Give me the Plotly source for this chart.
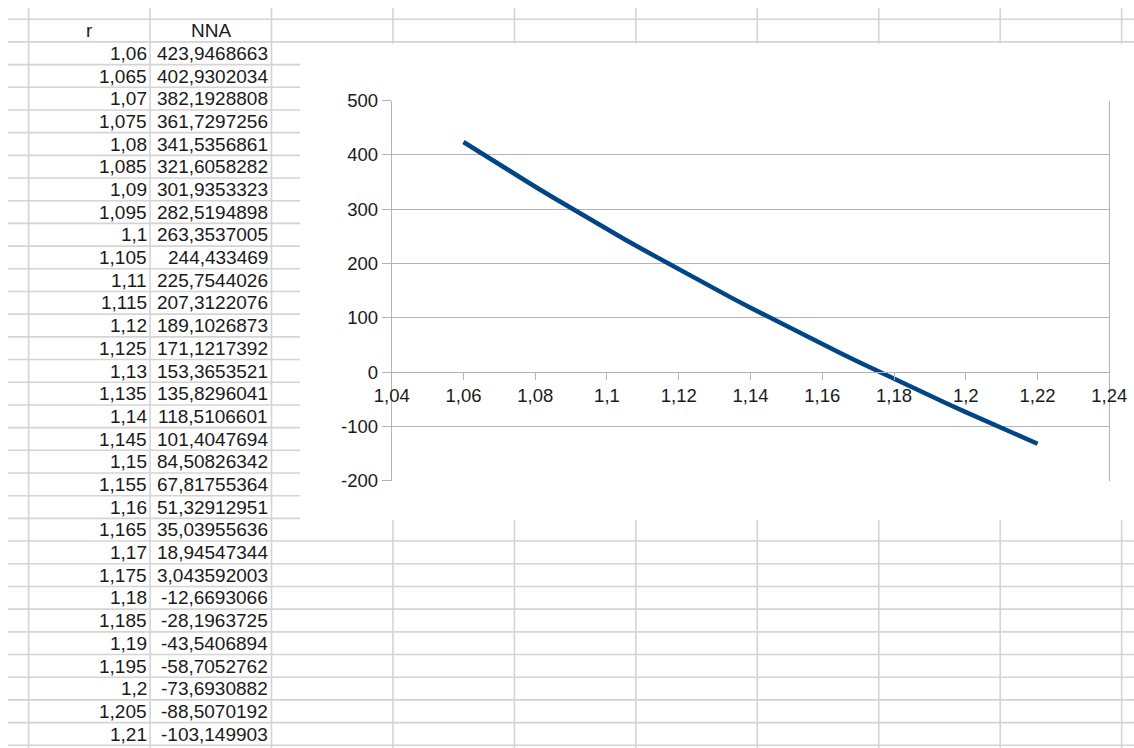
import plotly.graph_objects as go

# ---------------- data ----------------
r_values = [1.06, 1.065, 1.07, 1.075, 1.08, 1.085, 1.09, 1.095, 1.1, 1.105,
            1.11, 1.115, 1.12, 1.125, 1.13, 1.135, 1.14, 1.145, 1.15, 1.155,
            1.16, 1.165, 1.17, 1.175, 1.18, 1.185, 1.19, 1.195, 1.2, 1.205,
            1.21, 1.215, 1.22]
nna_values = [423.9468663, 402.9302034, 382.1928808, 361.7297256, 341.5356861,
              321.6058282, 301.9353323, 282.5194898, 263.3537005, 244.433469,
              225.7544026, 207.3122076, 189.1026873, 171.1217392, 153.3653521,
              135.8296041, 118.5106601, 101.4047694, 84.50826342, 67.81755364,
              51.32912951, 35.03955636, 18.94547344, 3.043592003, -12.6693066,
              -28.1963725, -43.5406894, -58.7052762, -73.6930882, -88.5070192,
              -103.149903, -117.62, -131.92]
header_labels = ["r", "NNA"]
x_tick_values = [1.04, 1.06, 1.08, 1.1, 1.12, 1.14, 1.16, 1.18, 1.2, 1.22, 1.24]
x_tick_labels = ["1,04", "1,06", "1,08", "1,1", "1,12", "1,14", "1,16", "1,18", "1,2", "1,22", "1,24"]
y_tick_values = [-200, -100, 0, 100, 200, 300, 400, 500]
y_tick_labels = ["-200", "-100", "0", "100", "200", "300", "400", "500"]

# ---------------- layout geometry (pixels) ----------------
W, H = 1134, 748
FONT = "Liberation Sans"
TXT = "#1a1a1a"
GRID = "#d4d4d4"
AX = "#b3b3b3"


def px(x):
    return x / W


def py(y):
    return 1 - y / H


col_x = [28.6 + 121.45 * k for k in range(10)]
row_y = [19.2 + 22.69 * k for k in range(33)]
visible_rows = 31

shapes = []
for x in col_x:
    shapes.append(dict(type="line", xref="paper", yref="paper", x0=px(x), x1=px(x),
                       y0=py(8), y1=py(H), line=dict(color=GRID, width=1.6), layer="below"))
for y in row_y:
    shapes.append(dict(type="line", xref="paper", yref="paper", x0=px(8), x1=px(W),
                       y0=py(y), y1=py(y), line=dict(color=GRID, width=1.6), layer="below"))
# chart object background
shapes.append(dict(type="rect", xref="paper", yref="paper", x0=px(300), x1=1,
                   y0=py(520), y1=py(43.5), fillcolor="white", line=dict(width=0), layer="below"))

annotations = []
fs = 19
annotations.append(dict(text=header_labels[0], xref="paper", yref="paper",
                        x=px((col_x[0] + col_x[1]) / 2), y=py(row_y[0] + 11.5),
                        xanchor="center", yanchor="middle", showarrow=False,
                        font=dict(family=FONT, size=fs, color=TXT)))
annotations.append(dict(text=header_labels[1], xref="paper", yref="paper",
                        x=px((col_x[1] + col_x[2]) / 2), y=py(row_y[0] + 11.5),
                        xanchor="center", yanchor="middle", showarrow=False,
                        font=dict(family=FONT, size=fs, color=TXT)))
for i in range(visible_rows):
    yc = row_y[i + 1] + 11.5
    annotations.append(dict(text=str(r_values[i]).replace(".", ","), xref="paper", yref="paper",
                            x=px(col_x[1] - 1.5), y=py(yc), xanchor="right", yanchor="middle",
                            showarrow=False, font=dict(family=FONT, size=fs, color=TXT)))
    annotations.append(dict(text=str(nna_values[i]).replace(".", ","), xref="paper", yref="paper",
                            x=px(col_x[2] - 1.5), y=py(yc), xanchor="right", yanchor="middle",
                            showarrow=False, font=dict(family=FONT, size=fs, color=TXT)))

# plot area domain
xd = [px(391.7), px(1109.3)]
yd = [py(480.7), py(100.7)]
y_range = [-200, 500]
zero_pos = yd[0] + (0 - y_range[0]) / (y_range[1] - y_range[0]) * (yd[1] - yd[0])

fig = go.Figure()
fig.add_trace(go.Scatter(x=r_values, y=nna_values, mode="lines",
                         line=dict(color="#004586", width=4.5), hoverinfo="skip",
                         showlegend=False))

fig.update_layout(
    width=W, height=H,
    margin=dict(l=0, r=0, t=0, b=0, pad=0, autoexpand=False),
    paper_bgcolor="white", plot_bgcolor="white",
    font=dict(family=FONT, size=fs, color=TXT),
    shapes=shapes, annotations=annotations,
    xaxis=dict(domain=xd, range=[1.04, 1.24], anchor="free", position=zero_pos,
               tickvals=x_tick_values, ticktext=x_tick_labels,
               showgrid=False, zeroline=False, showline=True, linecolor=AX, linewidth=1,
               ticks="outside", ticklen=7, tickcolor=AX, tickwidth=1, automargin=False,
               tickfont=dict(family=FONT, size=18.5, color=TXT), fixedrange=True),
    yaxis=dict(domain=yd, range=y_range, tickvals=y_tick_values, ticktext=y_tick_labels,
               showgrid=True, gridcolor=AX, gridwidth=1, zeroline=False,
               showline=True, linecolor=AX, linewidth=1, mirror=True, automargin=False,
               ticks="outside", ticklen=9, tickcolor=AX, tickwidth=1,
               tickfont=dict(family=FONT, size=18.5, color=TXT), fixedrange=True),
)

fig.write_html("out.html", config={"displayModeBar": False},
               post_script="document.body.style.margin='0';")
